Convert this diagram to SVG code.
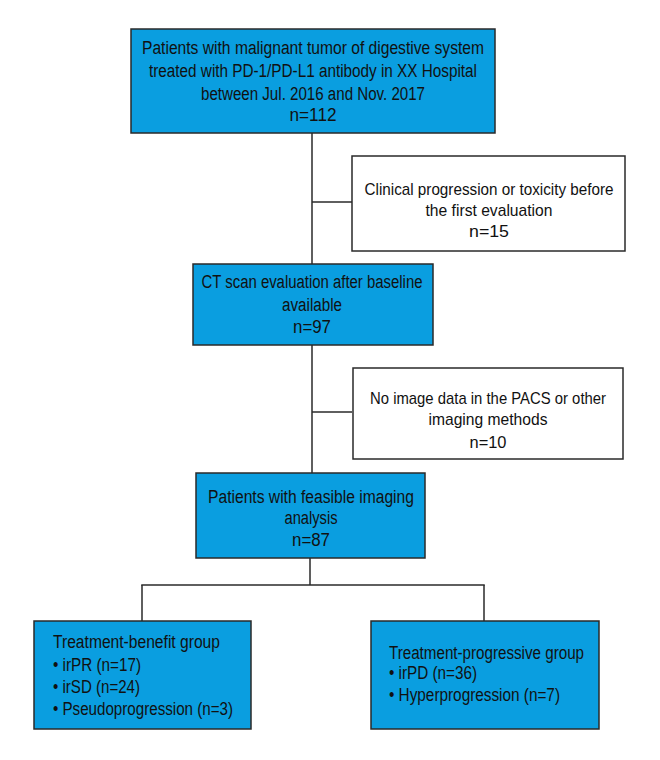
<svg xmlns="http://www.w3.org/2000/svg" width="660" height="760" viewBox="0 0 660 760">
<style>
.blue{fill:#0a9ee0;stroke:#2a2a2a;stroke-width:1.5}
.white{fill:#ffffff;stroke:#2a2a2a;stroke-width:1.5}
text{font-family:"Liberation Sans","DejaVu Sans",sans-serif;font-size:18px;fill:#111}
.s{font-size:17px}
.c{text-anchor:middle}
.conn line{stroke:#2a2a2a;stroke-width:1.5}
</style>
<rect width="660" height="760" fill="#ffffff"/>
<g class="conn" id="connectors">
<line x1="312" y1="133" x2="312" y2="264"/>
<line x1="312" y1="202" x2="352" y2="202"/>
<line x1="312" y1="345" x2="312" y2="473"/>
<line x1="312" y1="412" x2="352" y2="412"/>
<line x1="310" y1="558" x2="310" y2="585"/>
<line x1="141.25" y1="585" x2="484.75" y2="585"/>
<line x1="142" y1="585" x2="142" y2="621"/>
<line x1="484" y1="585" x2="484" y2="621"/>
</g>
<g id="n1">
<rect class="blue" x="131" y="29" width="364" height="104"/>
<text class="c" x="313" y="54" textLength="342" lengthAdjust="spacingAndGlyphs">Patients with malignant tumor of digestive system</text>
<text class="c" x="313" y="77" textLength="328" lengthAdjust="spacingAndGlyphs">treated with PD-1/PD-L1 antibody in XX Hospital</text>
<text class="c" x="313" y="100" textLength="224" lengthAdjust="spacingAndGlyphs">between Jul. 2016 and Nov. 2017</text>
<text class="c" x="313" y="121" textLength="47" lengthAdjust="spacingAndGlyphs">n=112</text>
</g>
<g id="n2">
<rect class="white" x="352" y="156" width="273" height="95"/>
<text class="c s" x="489" y="195" textLength="249" lengthAdjust="spacingAndGlyphs">Clinical progression or toxicity before</text>
<text class="c s" x="489" y="216" textLength="127" lengthAdjust="spacingAndGlyphs">the first evaluation</text>
<text class="c s" x="489" y="237" textLength="40" lengthAdjust="spacingAndGlyphs">n=15</text>
</g>
<g id="n3">
<rect class="blue" x="193" y="264" width="240" height="81"/>
<text class="c" x="312" y="288" textLength="221" lengthAdjust="spacingAndGlyphs">CT scan evaluation after baseline</text>
<text class="c" x="312" y="311" textLength="60" lengthAdjust="spacingAndGlyphs">available</text>
<text class="c" x="312" y="333" textLength="38" lengthAdjust="spacingAndGlyphs">n=97</text>
</g>
<g id="n4">
<rect class="white" x="353" y="368" width="270" height="91"/>
<text class="c s" x="488" y="404" textLength="236" lengthAdjust="spacingAndGlyphs">No image data in the PACS or other</text>
<text class="c s" x="488" y="425" textLength="119" lengthAdjust="spacingAndGlyphs">imaging methods</text>
<text class="c s" x="488" y="448" textLength="37" lengthAdjust="spacingAndGlyphs">n=10</text>
</g>
<g id="n5">
<rect class="blue" x="196" y="473" width="229" height="85"/>
<text class="c" x="311" y="503" textLength="206" lengthAdjust="spacingAndGlyphs">Patients with feasible imaging</text>
<text class="c" x="311" y="524" textLength="53" lengthAdjust="spacingAndGlyphs">analysis</text>
<text class="c" x="311" y="546" textLength="38" lengthAdjust="spacingAndGlyphs">n=87</text>
</g>
<g id="n6">
<rect class="blue" x="34" y="621" width="217" height="108"/>
<text x="53" y="648" textLength="167" lengthAdjust="spacingAndGlyphs">Treatment-benefit group</text>
<text x="53" y="671" textLength="88" lengthAdjust="spacingAndGlyphs">• irPR (n=17)</text>
<text x="53" y="693" textLength="87" lengthAdjust="spacingAndGlyphs">• irSD (n=24)</text>
<text x="53" y="715" textLength="180" lengthAdjust="spacingAndGlyphs">• Pseudoprogression (n=3)</text>
</g>
<g id="n7">
<rect class="blue" x="371" y="621" width="228" height="108"/>
<text x="389" y="659" textLength="195" lengthAdjust="spacingAndGlyphs">Treatment-progressive group</text>
<text x="389" y="679" textLength="88" lengthAdjust="spacingAndGlyphs">• irPD (n=36)</text>
<text x="389" y="701" textLength="171" lengthAdjust="spacingAndGlyphs">• Hyperprogression (n=7)</text>
</g>
</svg>
